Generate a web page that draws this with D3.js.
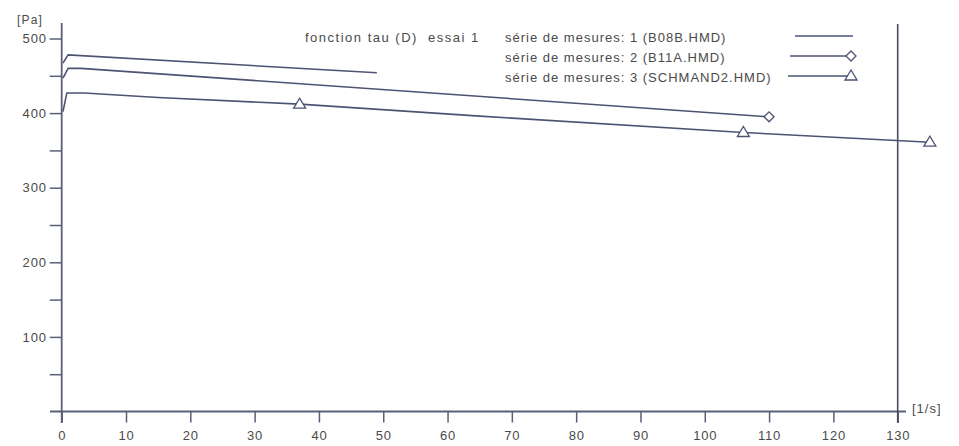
<!DOCTYPE html>
<html><head><meta charset="utf-8">
<script src="https://cdn.jsdelivr.net/npm/d3@7"></script>
<style>
html,body{margin:0;padding:0;background:#fff;}
svg{display:block;}
text{font-family:"Liberation Sans",Arial,sans-serif;fill:#4a4a4a;}
</style></head>
<body><svg id="c" width="959" height="446"></svg>
<script>
// ---- data ----
const xTicks = [0,10,20,30,40,50,60,70,80,90,100,110,120,130];
const yTicksMajor = [100,200,300,400,500];
const yTicksMinor = [50,150,250,350,450];
const xUnit = "[1/s]";
const yUnit = "[Pa]";
const legendTitle = "fonction tau (D)  essai 1";
const seriesNames = ["série de mesures: 1 (B08B.HMD)","série de mesures: 2 (B11A.HMD)","série de mesures: 3 (SCHMAND2.HMD)"];
const seriesMarkers = ["none","diamond","triangle"];
const s1x = [0.2, 1, 49];
const s1y = [467, 478, 454];
const s1m = [0, 0, 0];
const s2x = [0.2, 1, 3, 110];
const s2y = [447, 460, 460, 395];
const s2m = [0, 0, 0, 1];
const s3x = [0.2, 0.8, 3.5, 15, 37, 65, 106, 135];
const s3y = [402, 427, 427, 421, 412, 396, 374, 361];
const s3m = [0, 0, 0, 0, 1, 0, 1, 1];

// ---- drawing ----
const svg = d3.select("#c");
const LINE = "#4c5374";
const AX = "#5a5f78";
const x = d3.scaleLinear().domain([0,130]).range([61.7,897.7]);
const y = d3.scaleLinear().domain([0,500]).range([411.5,38.5]);
const FS = 13;

// x axis
const xAxis = d3.axisBottom(x).tickValues(xTicks).tickSize(11).tickPadding(8).tickFormat(d3.format("d"));
const gx = svg.append("g").attr("transform",`translate(0,${y(0)})`).call(xAxis);
gx.select(".domain").remove();
gx.selectAll(".tick line").attr("stroke",AX).attr("stroke-width",1.5);
gx.selectAll(".tick text").attr("font-size",FS).attr("fill","#4a4a4a").attr("letter-spacing","0.8px").attr("font-family","Liberation Sans, Arial, sans-serif");
svg.append("line").attr("x1",50).attr("x2",906).attr("y1",y(0)).attr("y2",y(0)).attr("stroke",AX).attr("stroke-width",1.8);

// y axis
const yAxis = d3.axisLeft(y).tickValues(yTicksMajor).tickSize(12).tickPadding(3).tickFormat(d3.format("d"));
const gy = svg.append("g").attr("transform",`translate(${x(0)},0)`).call(yAxis);
gy.select(".domain").remove();
gy.selectAll(".tick line").attr("stroke",AX).attr("stroke-width",1.5);
gy.selectAll(".tick text").attr("font-size",FS).attr("fill","#4a4a4a").attr("letter-spacing","0.8px").attr("font-family","Liberation Sans, Arial, sans-serif");
const gym = svg.append("g").attr("transform",`translate(${x(0)},0)`).call(d3.axisLeft(y).tickValues(yTicksMinor).tickSize(12).tickFormat(""));
gym.select(".domain").remove();
gym.selectAll(".tick line").attr("stroke",AX).attr("stroke-width",1.5);
svg.append("line").attr("x1",x(0)).attr("x2",x(0)).attr("y1",23).attr("y2",423).attr("stroke",AX).attr("stroke-width",1.8);
svg.append("line").attr("x1",x(130)).attr("x2",x(130)).attr("y1",24).attr("y2",423).attr("stroke","#4a4e60").attr("stroke-width",1.6);

svg.append("text").attr("x",17).attr("y",24).attr("font-size",FS-1).attr("letter-spacing","1.2px").text(yUnit);
svg.append("text").attr("x",912).attr("y",413).attr("font-size",FS).attr("letter-spacing","1px").text(xUnit);

// series
const series = [
  {xs:s1x, ys:s1y, ms:s1m, mk:seriesMarkers[0]},
  {xs:s2x, ys:s2y, ms:s2m, mk:seriesMarkers[1]},
  {xs:s3x, ys:s3y, ms:s3m, mk:seriesMarkers[2]}
];
const line = d3.line().x(d=>x(d[0])).y(d=>y(d[1]));
function marker(g, kind, cx, cy){
  if(kind==="diamond"){
    g.append("path").attr("d",`M${cx-5},${cy}L${cx},${cy-5}L${cx+5},${cy}L${cx},${cy+5}Z`)
     .attr("fill","#fff").attr("stroke",LINE).attr("stroke-width",1.3);
  } else if(kind==="triangle"){
    g.append("path").attr("d",`M${cx-6},${cy+4}L${cx},${cy-6}L${cx+6},${cy+4}Z`)
     .attr("fill","#fff").attr("stroke",LINE).attr("stroke-width",1.3);
  }
}
series.forEach(s=>{
  const pts = s.xs.map((v,i)=>[v,s.ys[i]]);
  svg.append("path").attr("d",line(pts)).attr("fill","none").attr("stroke",LINE).attr("stroke-width",1.6);
  const g = svg.append("g");
  pts.forEach((p,i)=>{ if(s.ms[i]) marker(g,s.mk,x(p[0]),y(p[1])); });
});

// legend
svg.append("text").attr("x",305).attr("y",42).attr("font-size",FS).attr("letter-spacing","1.5px")
  .attr("xml:space","preserve").style("white-space","pre").text(legendTitle);
const rowsY = [38,58,78];
const lineStart = [795,790,788];
seriesNames.forEach((nm,i)=>{
  svg.append("text").attr("x",505).attr("y",rowsY[i]+4).attr("font-size",FS).attr("letter-spacing","1px").text(nm);
  const ly = rowsY[i]-2;
  svg.append("line").attr("x1",lineStart[i]).attr("x2",853).attr("y1",ly).attr("y2",ly).attr("stroke",LINE).attr("stroke-width",1.6);
  marker(svg, seriesMarkers[i], 851, ly);
});
</script></body></html>
